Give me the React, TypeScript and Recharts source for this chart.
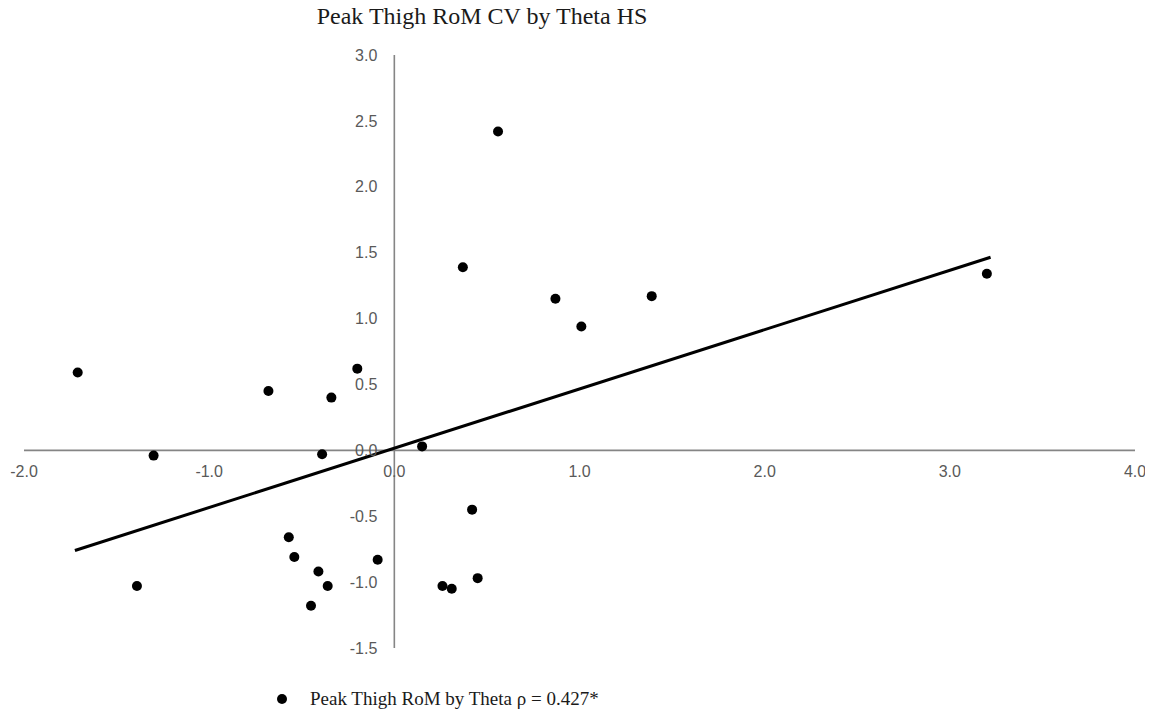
import {
  ReferenceDot,
  ReferenceLine,
  Scatter,
  ScatterChart,
  XAxis,
  YAxis,
} from "recharts";

// theta HS (x) vs peak thigh RoM CV (y)
const thetaHS = [
  -1.71, -1.3, -1.39, -0.68, -0.57, -0.54, -0.45, -0.41, -0.39, -0.36, -0.34, -0.2,
  -0.09, 0.15, 0.26, 0.31, 0.37, 0.42, 0.45, 0.56, 0.87, 1.01, 1.39, 3.2,
];
const peakThighRoM = [
  0.59, -0.04, -1.03, 0.45, -0.66, -0.81, -1.18, -0.92, -0.03, -1.03, 0.4, 0.62,
  -0.83, 0.03, -1.03, -1.05, 1.39, -0.45, -0.97, 2.42, 1.15, 0.94, 1.17, 1.34,
];

const xTicks = [-2, -1, 0, 1, 2, 3, 4];
const yTicks = [-1.5, -1, -0.5, 0, 0.5, 1, 1.5, 2, 2.5, 3];

// fitted trend line endpoints
const trendX = [-1.725, 3.22];
const trendY = [-0.76, 1.465];

const points = thetaHS.map((x, i) => ({ x, y: peakThighRoM[i] }));

const serif = "'Liberation Serif', 'Times New Roman', serif";

const tickStyle = {
  fill: "#595959",
  fontSize: 16,
  fontFamily: "'Liberation Sans', Arial, sans-serif",
};

export default function App() {
  return (
    <div style={{ position: "relative", width: 1137, height: 705 }}>
      <div
        style={{
          position: "absolute",
          left: 0,
          width: 948,
          top: -5,
          textAlign: "center",
          fontFamily: serif,
          fontSize: 24,
          color: "#1a1a1a",
        }}
      >
        Peak Thigh RoM CV by Theta HS
      </div>
      <ScatterChart
        width={1137}
        height={697}
        margin={{ top: 47, right: 10, bottom: 57, left: 16 }}
      >
        <XAxis type="number" dataKey="x" domain={[-2, 4]} ticks={xTicks} hide />
        <YAxis type="number" dataKey="y" domain={[-1.5, 3]} ticks={yTicks} hide />

        <ReferenceLine y={0} stroke="#858585" strokeWidth={1.6} />
        <ReferenceLine x={0} stroke="#858585" strokeWidth={1.6} />

        {xTicks.map((t) => (
          <ReferenceDot
            key={`x${t}`}
            x={t}
            y={0}
            r={0}
            ifOverflow="visible"
            label={{ value: t.toFixed(1), position: "bottom", offset: 15, ...tickStyle }}
          />
        ))}
        {yTicks.map((t) => (
          <ReferenceDot
            key={`y${t}`}
            x={0}
            y={t}
            r={0}
            ifOverflow="visible"
            label={{ value: t.toFixed(1), position: "left", offset: 17, ...tickStyle }}
          />
        ))}

        <ReferenceLine
          segment={[
            { x: trendX[0], y: trendY[0] },
            { x: trendX[1], y: trendY[1] },
          ]}
          stroke="#000"
          strokeWidth={3}
          ifOverflow="visible"
        />

        <Scatter
          name="Peak Thigh RoM by Theta"
          data={points}
          fill="#000"
          isAnimationActive={false}
          shape={(p: any) => <circle cx={p.cx} cy={p.cy} r={5} fill="#000" />}
        />
      </ScatterChart>
      <div
        style={{
          position: "absolute",
          left: 269,
          top: 680,
          display: "flex",
          alignItems: "center",
          fontFamily: serif,
          fontSize: 19,
          color: "#1a1a1a",
          whiteSpace: "nowrap",
        }}
      >
        <span
          style={{
            display: "inline-block",
            width: 10,
            height: 10,
            borderRadius: 5,
            background: "#000",
            marginRight: 23,
          }}
        />
        Peak Thigh RoM by Theta ρ = 0.427*
      </div>
    </div>
  );
}
